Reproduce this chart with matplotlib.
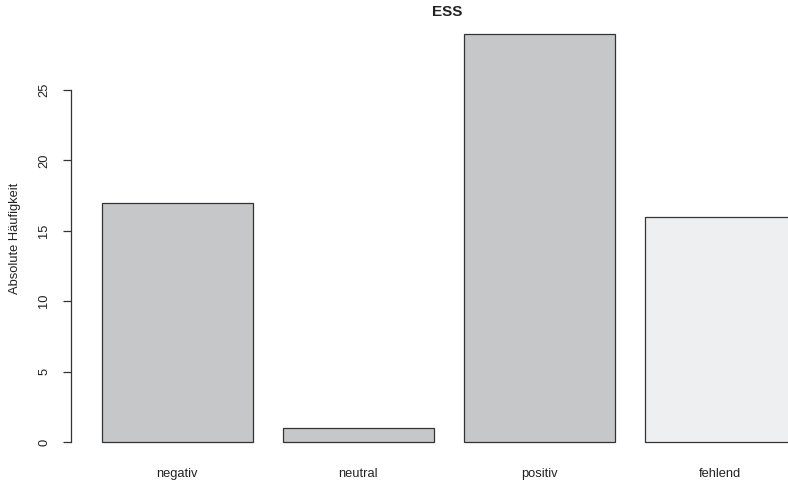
import matplotlib.pyplot as plt
import numpy as np

plt.rcParams['font.family'] = ['Liberation Sans', 'DejaVu Sans']

# counts per category
categories = ['negativ', 'neutral', 'positiv', 'fehlend']
counts = [17, 1, 29, 16]
bar_colors = ['#c6c7c9', '#c6c7c9', '#c6c7c9', '#eeeff1']
yticks = [0, 5, 10, 15, 20, 25]

W, H = 788, 480
fig = plt.figure(figsize=(W / 100, H / 100), dpi=100)

# pixel geometry of the plot region
px_unit = 150.8           # pixels per bar-width unit
left_px, right_px = 71, 788
top_px, bottom_px = 17.3, 458.3
ax = fig.add_axes([left_px / W, 1 - bottom_px / H,
                   (right_px - left_px) / W, (bottom_px - top_px) / H])

# R-style barplot positions: width 1, space 0.2
centers = 0.7 + 1.2 * np.arange(len(categories))
ax.bar(centers, counts, width=1.0, color=bar_colors,
       edgecolor='#333333', linewidth=0.9)

x0 = 0.2 - (102 - left_px) / px_unit
ax.set_xlim(x0, x0 + (right_px - left_px) / px_unit)
ax.set_ylim(-1.16, 30.16)

for s in ['top', 'right', 'bottom']:
    ax.spines[s].set_visible(False)
ax.spines['left'].set_bounds(0, 25)
ax.spines['left'].set_color('#333333')
ax.spines['left'].set_linewidth(0.9)

ax.set_yticks(yticks)
ax.set_yticklabels([str(t) for t in yticks], rotation=90, va='center')
ax.tick_params(axis='y', length=6, width=0.9, color='#333333',
               labelsize=9.3, pad=9, labelcolor='#222222')

ax.set_xticks(centers)
ax.set_xticklabels(categories)
ax.tick_params(axis='x', length=0, labelsize=9.3, pad=7, labelcolor='#222222')

fig.text(447 / W, 1 - 12 / H, 'ESS', ha='center', va='center',
         fontsize=11, fontweight='bold', color='#222222')
fig.text(15 / W, 1 - 238 / H, 'Absolute Häufigkeit', ha='center', va='center',
         rotation=90, fontsize=9.3, color='#222222')

fig.savefig('out.png', dpi=100)
